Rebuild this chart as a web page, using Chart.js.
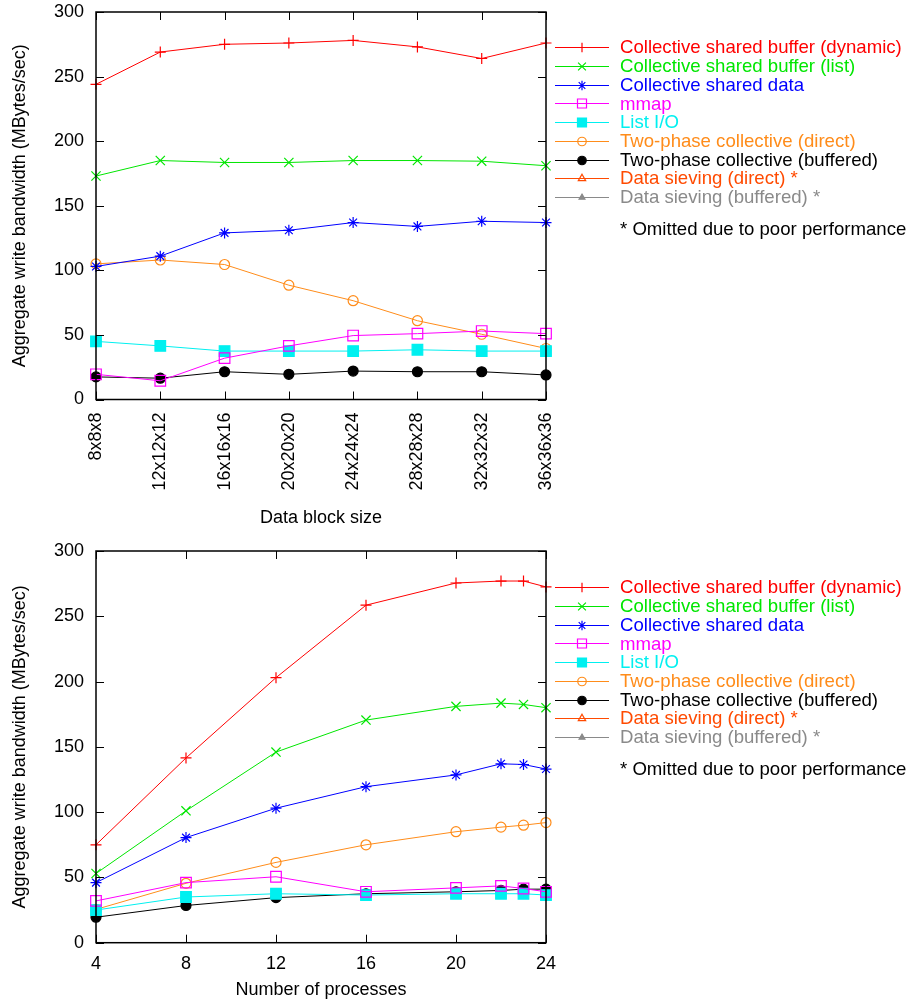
<!DOCTYPE html>
<html>
<head>
<meta charset="utf-8">
<script src="https://cdn.jsdelivr.net/npm/chart.js@4.4.1/dist/chart.umd.min.js"></script>
<style>
  html, body { margin: 0; padding: 0; background: #ffffff; }
  #wrap { position: relative; width: 908px; height: 1002px; }
  #c1 { position: absolute; left: 0; top: 0; }
  #c2 { position: absolute; left: 0; top: 540px; }
</style>
</head>
<body>
<div id="wrap">
  <canvas id="c1" width="908" height="540"></canvas>
  <canvas id="c2" width="908" height="462"></canvas>
</div>
<script>
// ---------- data ----------
const seriesNames = [
  "Collective shared buffer (dynamic)",
  "Collective shared buffer (list)",
  "Collective shared data",
  "mmap",
  "List I/O",
  "Two-phase collective (direct)",
  "Two-phase collective (buffered)",
  "Data sieving (direct) *",
  "Data sieving (buffered) *"
];
const footnote = "* Omitted due to poor performance";
const yTitle = "Aggregate write bandwidth (MBytes/sec)";

// top chart: data block size
const blockSizes = ["8x8x8", "12x12x12", "16x16x16", "20x20x20", "24x24x24", "28x28x28", "32x32x32", "36x36x36"];
const topDynamic  = [244, 269, 275, 276, 278, 273, 264, 276];
const topList     = [173, 185, 183.5, 183.5, 185, 185, 184.5, 181];
const topShared   = [103, 111, 129, 131, 137, 134, 138, 137];
const topMmap     = [19.5, 14.5, 32, 41.5, 49.5, 51, 53, 51];
const topListIO   = [45, 41.5, 37.5, 37.5, 37.5, 38.5, 37.5, 37.5];
const topTwoDirect = [105, 108, 104.5, 88.5, 76.5, 61, 50.5, 39.5];
const topTwoBuf   = [17.5, 16.5, 21.5, 19.5, 22, 21.5, 21.5, 19];

// bottom chart: number of processes
const procs = [4, 8, 12, 16, 20, 22, 23, 24];
const botDynamic  = [75, 141.5, 203, 258.5, 275.5, 277, 277, 272.5];
const botList     = [53, 101, 146, 170.5, 181, 183.5, 182.5, 180];
const botShared   = [46, 80.5, 103, 119.5, 128.5, 137, 136.5, 133];
const botMmap     = [32, 46, 50.5, 39, 42, 43.5, 41.5, 39];
const botListIO   = [25, 35, 37.5, 36.5, 37.5, 37.5, 37.5, 36.5];
const botTwoDirect = [25.5, 45.5, 61.5, 75, 85, 88.5, 90, 92];
const botTwoBuf   = [19.5, 28.5, 34.5, 37.5, 39, 40, 41, 41];

const yTicks = [0, 50, 100, 150, 200, 250, 300];
const procTicks = [4, 8, 12, 16, 20, 24];

// ---------- styles ----------
const colors = ["#ff0000", "#00e600", "#0000ff", "#ff00ff", "#00f0f0", "#ff8c1a", "#000000", "#ff4a00", "#8a8a8a"];
const pStyles = ["cross", "crossRot", "star", "rect", "rect", "circle", "circle", "triangle", "triangle"];
const pRadius = [5.5, 6.5, 5.5, 7.5, 7.5, 5, 5, 5, 4];
const pFilled = [false, false, false, false, true, false, true, false, true];
const FONT = "'Liberation Sans', Arial, Helvetica, sans-serif";

function makeDatasets(seriesList) {
  return seriesNames.map((name, i) => ({
    label: name,
    data: seriesList[i] || [],
    borderColor: colors[i],
    backgroundColor: pFilled[i] ? colors[i] : "rgba(0,0,0,0)",
    borderWidth: 1,
    pointStyle: pStyles[i],
    pointRadius: pRadius[i],
    pointHoverRadius: pRadius[i],
    pointBorderWidth: 1.2,
    pointBorderColor: colors[i],
    pointBackgroundColor: pFilled[i] ? colors[i] : "rgba(0,0,0,0)",
    tension: 0,
    fill: false,
    clip: false
  }));
}

// frame + inward ticks + side legend
const framePlugin = {
  id: "gnuFrame",
  afterDatasetsDraw(chart) {
    const ctx = chart.ctx;
    const a = chart.chartArea;
    const L = 8;
    ctx.save();
    ctx.strokeStyle = "#000";
    ctx.lineWidth = 1.5;
    ctx.strokeRect(a.left, a.top, a.right - a.left, a.bottom - a.top);
    ctx.lineWidth = 1;
    ctx.beginPath();
    const ys = chart.scales.y;
    ys.ticks.forEach((t, i) => {
      const p = Math.round(ys.getPixelForTick(i)) + 0.5;
      ctx.moveTo(a.left, p); ctx.lineTo(a.left + L, p);
      ctx.moveTo(a.right, p); ctx.lineTo(a.right - L, p);
    });
    const xs = chart.scales.x;
    xs.ticks.forEach((t, i) => {
      const p = Math.round(xs.getPixelForTick(i)) + 0.5;
      ctx.moveTo(p, a.bottom); ctx.lineTo(p, a.bottom - L);
      ctx.moveTo(p, a.top); ctx.lineTo(p, a.top + L);
    });
    ctx.stroke();
    ctx.restore();
  },
  afterDraw(chart) {
    const o = chart.options.plugins.sideLegend;
    if (!o) return;
    const ctx = chart.ctx;
    ctx.save();
    chart.data.datasets.forEach((ds, i) => {
      const y = o.y0 + i * o.dy;
      ctx.strokeStyle = ds.borderColor;
      ctx.lineWidth = 1;
      ctx.beginPath();
      ctx.moveTo(o.x0, Math.round(y) + 0.5);
      ctx.lineTo(o.x1, Math.round(y) + 0.5);
      ctx.stroke();
      ctx.fillStyle = ds.pointBackgroundColor;
      ctx.strokeStyle = ds.borderColor;
      ctx.lineWidth = 1.2;
      Chart.helpers.drawPoint(ctx, {
        pointStyle: ds.pointStyle, radius: ds.pointRadius * 0.85, rotation: 0, borderWidth: 1.2
      }, (o.x0 + o.x1) / 2, Math.round(y) + 0.5);
      ctx.fillStyle = ds.borderColor;
      ctx.font = "18.6px " + FONT;
      ctx.textAlign = "left";
      ctx.textBaseline = "middle";
      ctx.fillText(ds.label, o.textX, y + 1);
    });
    ctx.fillStyle = "#000";
    ctx.fillText(footnote, o.textX, o.noteY);
    ctx.restore();
  }
};

function yScale(titlePad) {
  return {
    type: "linear", min: 0, max: 300,
    afterBuildTicks(s) { s.ticks = yTicks.map(v => ({ value: v })); },
    afterFit(s) { s.width = 96; s.paddingTop = 0; s.paddingBottom = 0; },
    grid: { display: false, drawTicks: false },
    border: { display: false },
    ticks: { color: "#000", font: { size: 18, family: FONT }, padding: 12 },
    title: { display: true, text: yTitle, color: "#000", font: { size: 18, family: FONT }, padding: { top: titlePad, bottom: 0 } }
  };
}

Chart.defaults.font.family = FONT;
Chart.defaults.color = "#000";

const legendOpts = { x0: 555, x1: 609, textX: 620, y0: 47.3, dy: 18.7, noteY: 230 };

new Chart(document.getElementById("c1"), {
  type: "line",
  data: {
    labels: blockSizes,
    datasets: makeDatasets([topDynamic, topList, topShared, topMmap, topListIO, topTwoDirect, topTwoBuf])
  },
  options: {
    responsive: false, animation: false, events: [],
    layout: { padding: { left: 0, right: 362, top: 12, bottom: 0 } },
    scales: {
      x: {
        type: "category", offset: false,
        afterFit(s) { s.height = 140.5; s.paddingLeft = 0; s.paddingRight = 0; },
        grid: { display: false, drawTicks: false, offset: false },
        border: { display: false },
        ticks: { color: "#000", font: { size: 18, family: FONT }, padding: 13, minRotation: 90, maxRotation: 90, autoSkip: false },
        title: { display: true, text: "Data block size", color: "#000", font: { size: 18, family: FONT }, padding: { top: 0, bottom: 11 } }
      },
      y: yScale(9)
    },
    plugins: { legend: { display: false }, tooltip: { enabled: false }, sideLegend: legendOpts }
  },
  plugins: [framePlugin]
});

new Chart(document.getElementById("c2"), {
  type: "line",
  data: {
    datasets: makeDatasets([botDynamic, botList, botShared, botMmap, botListIO, botTwoDirect, botTwoBuf]
      .map(arr => arr.map((v, k) => ({ x: procs[k], y: v }))))
  },
  options: {
    responsive: false, animation: false, events: [],
    layout: { padding: { left: 0, right: 362, top: 11, bottom: 0 } },
    scales: {
      x: {
        type: "linear", min: 4, max: 24,
        afterBuildTicks(s) { s.ticks = procTicks.map(v => ({ value: v })); },
        afterFit(s) { s.height = 59.3; s.paddingLeft = 0; s.paddingRight = 0; },
        grid: { display: false, drawTicks: false },
        border: { display: false },
        ticks: { color: "#000", font: { size: 18, family: FONT }, padding: 11, maxRotation: 0 },
        title: { display: true, text: "Number of processes", color: "#000", font: { size: 18, family: FONT }, padding: { top: 0, bottom: 1 } }
      },
      y: yScale(9)
    },
    plugins: { legend: { display: false }, tooltip: { enabled: false }, sideLegend: legendOpts }
  },
  plugins: [framePlugin]
});
</script>
</body>
</html>
